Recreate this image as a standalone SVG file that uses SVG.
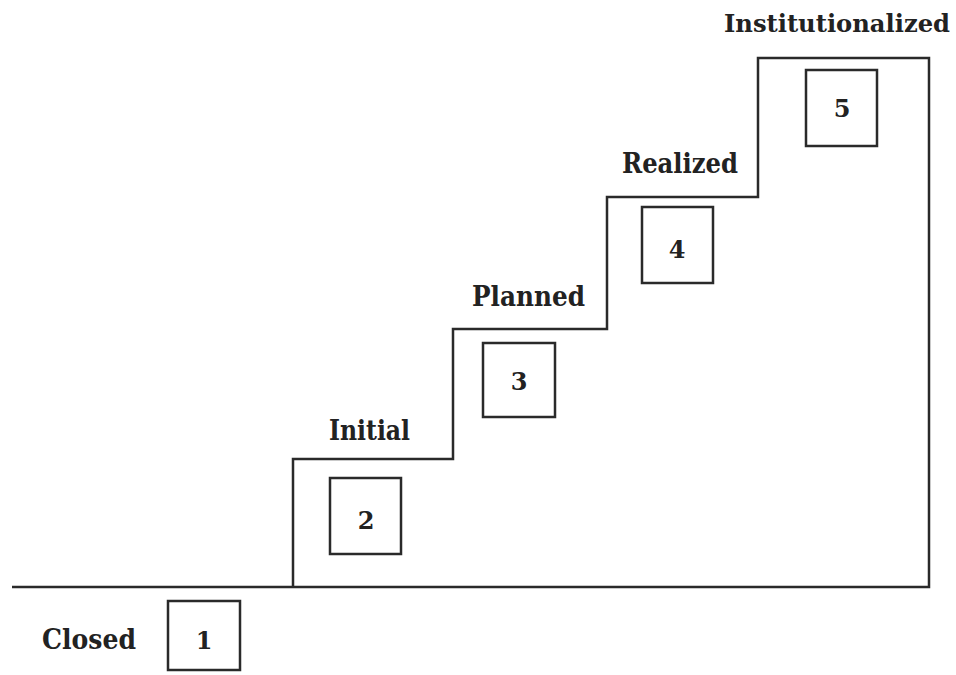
<svg xmlns="http://www.w3.org/2000/svg" width="956" height="675" viewBox="0 0 956 675">
<style>
.ln{fill:none;stroke:#2a2a2a;stroke-width:2.5;stroke-linejoin:miter}
.bx{fill:#fff;stroke:#2a2a2a;stroke-width:2.5}
.lb{font-family:"DejaVu Serif","Liberation Serif",serif;font-weight:bold;font-size:27px;fill:#222;text-anchor:middle}
.nm{font-family:"DejaVu Serif","Liberation Serif",serif;font-weight:bold;font-size:24px;fill:#222;text-anchor:middle}
</style>
<rect width="956" height="675" fill="#fff"/>
<g id="connectors">
<path class="ln" d="M12 587 H929 V58 H758 V197 H607 V329 H453 V459 H293 V587"/>
</g>
<g id="closed">
<text class="lb" x="89" y="649" textLength="94" lengthAdjust="spacingAndGlyphs">Closed</text>
<rect class="bx" x="168" y="601" width="72" height="69"/>
<text class="nm" x="204" y="649">1</text>
</g>
<g id="initial">
<text class="lb" x="369.5" y="440" textLength="81" lengthAdjust="spacingAndGlyphs">Initial</text>
<rect class="bx" x="330" y="478" width="71" height="76"/>
<text class="nm" x="366" y="529">2</text>
</g>
<g id="planned">
<text class="lb" x="528.5" y="306" textLength="113" lengthAdjust="spacingAndGlyphs">Planned</text>
<rect class="bx" x="483" y="343" width="72" height="74"/>
<text class="nm" x="519" y="390">3</text>
</g>
<g id="realized">
<text class="lb" x="680" y="173" textLength="116" lengthAdjust="spacingAndGlyphs">Realized</text>
<rect class="bx" x="642" y="207" width="71" height="76"/>
<text class="nm" x="677" y="258">4</text>
</g>
<g id="institutionalized">
<text class="lb" x="837" y="32" style="font-size:25px" textLength="226" lengthAdjust="spacingAndGlyphs">Institutionalized</text>
<rect class="bx" x="806" y="70" width="71" height="76"/>
<text class="nm" x="842" y="117">5</text>
</g>
</svg>
